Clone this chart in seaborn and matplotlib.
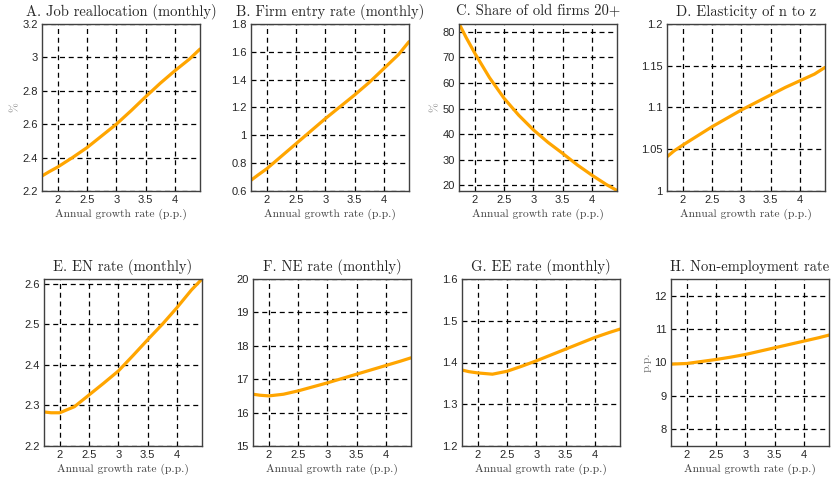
import matplotlib
matplotlib.use('Agg')
import matplotlib.pyplot as plt
import matplotlib.ticker as mticker
import seaborn as sns

# growth rate grid (p.p.)
growth = [1.73, 1.85, 2.0, 2.25, 2.5, 2.75, 3.0, 3.25, 3.5, 3.75, 4.0, 4.25, 4.43]

job_realloc = [2.29, 2.315, 2.344, 2.40, 2.46, 2.53, 2.60, 2.68, 2.764, 2.845, 2.92, 2.99, 3.05]
firm_entry = [0.677, 0.715, 0.76, 0.85, 0.94, 1.03, 1.12, 1.205, 1.29, 1.38, 1.48, 1.58, 1.673]
old_share = [83.2, 77.8, 71.6, 62.1, 54.0, 47.4, 41.7, 36.8, 32.5, 28.0, 24.0, 20.3, 18.0]
elasticity = [1.041, 1.048, 1.055, 1.066, 1.077, 1.087, 1.097, 1.106, 1.115, 1.124, 1.132, 1.140, 1.148]
en_rate = [2.284, 2.282, 2.282, 2.297, 2.326, 2.355, 2.385, 2.423, 2.462, 2.50, 2.541, 2.585, 2.612]
ne_rate = [16.55, 16.52, 16.50, 16.55, 16.65, 16.77, 16.89, 17.02, 17.15, 17.28, 17.41, 17.54, 17.64]
ee_rate = [1.382, 1.378, 1.375, 1.372, 1.379, 1.391, 1.404, 1.418, 1.432, 1.446, 1.46, 1.472, 1.48]
nonemp = [9.95, 9.96, 9.97, 10.03, 10.09, 10.16, 10.24, 10.34, 10.44, 10.54, 10.64, 10.74, 10.82]

titles = ['A. Job reallocation (monthly)', 'B. Firm entry rate (monthly)',
          'C. Share of old firms 20+', 'D. Elasticity of n to z',
          'E. EN rate (monthly)', 'F. NE rate (monthly)',
          'G. EE rate (monthly)', 'H. Non-employment rate']
series = [job_realloc, firm_entry, old_share, elasticity, en_rate, ne_rate, ee_rate, nonemp]
ylims = [(2.2, 3.2), (0.6, 1.8), (17.8, 83), (1.0, 1.2),
         (2.2, 2.612), (15, 20), (1.2, 1.6), (7.5, 12.5)]
ysteps = [0.2, 0.2, 10, 0.05, 0.1, 1, 0.1, 1]
ylabels = ['%', '', '%', '', '', '', '', 'p.p.']
xticks = [2, 2.5, 3, 3.5, 4]

sns.set_style('white')
plt.rcParams['font.family'] = ['Liberation Sans', 'DejaVu Sans']

fig = plt.figure(figsize=(8.32, 4.78), dpi=100)

W, H = 832, 478
lefts = [[42, 251, 459, 667], [44, 253, 462, 671]]
tops = [24, 279]
aw, ah = 158, 167

for i in range(8):
    r, c = divmod(i, 4)
    ax = fig.add_axes([lefts[r][c] / W, (H - tops[r] - ah) / H, aw / W, ah / H])
    sns.lineplot(x=growth, y=series[i], ax=ax, color='#FFA500', linewidth=2.3)
    ax.set_xlim(1.73, 4.43)
    ax.set_ylim(*ylims[i])
    ax.set_xticks(xticks)
    ax.yaxis.set_major_locator(mticker.MultipleLocator(ysteps[i]))
    fmt = mticker.FuncFormatter(lambda v, _: f'{round(v, 4):g}')
    ax.xaxis.set_major_formatter(fmt)
    ax.yaxis.set_major_formatter(fmt)
    ax.grid(True, color='black', linestyle=(0, (4, 3)), linewidth=0.9)
    ax.tick_params(direction='in', length=3, width=0.8, colors='#333333',
                   labelsize=8, labelcolor='#262626', pad=3)
    for sp in ax.spines.values():
        sp.set_color('#404040')
        sp.set_linewidth(1.0)
    ax.set_title(titles[i], family='cmr10', fontsize=10.5, pad=6)
    ax.set_xlabel('Annual growth rate (p.p.)', family='cmr10', fontsize=8.3,
                  color='#444444', labelpad=2.5)
    if ylabels[i]:
        ax.set_ylabel(ylabels[i], family='cmr10', fontsize=8.5, color='#777777', labelpad=2)

plt.savefig('out.png', dpi=100)
